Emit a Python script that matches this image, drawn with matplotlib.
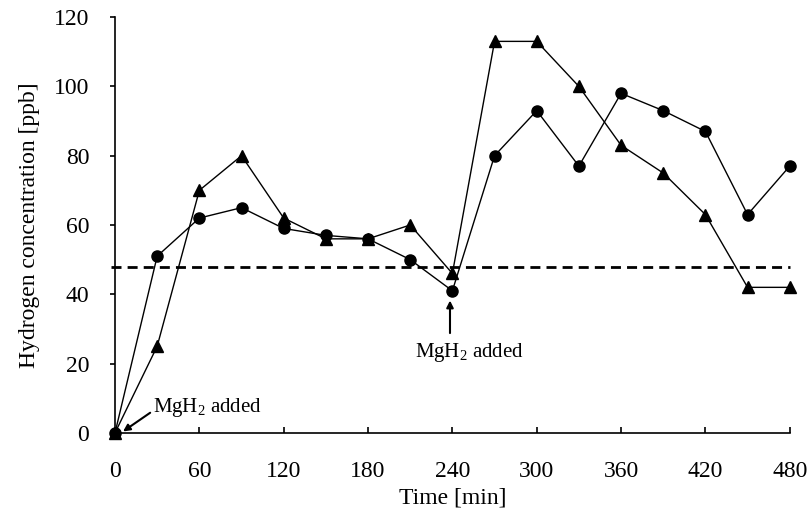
import matplotlib.pyplot as plt
import numpy as np

plt.rc('font', family='Liberation Serif')
plt.rc('mathtext', fontset='custom', rm='Liberation Serif', it='Liberation Serif:italic')
plt.rc('xtick', labelsize=17)
plt.rc('ytick', labelsize=17)
plt.rc('axes', labelsize=17)

time   = [0, 30, 60, 90, 120, 150, 180, 210, 240, 270, 300, 330, 360, 390, 420, 450, 480]
circ   = [0, 51, 62, 65, 59, 57, 56, 50, 41, 80, 93, 77, 98, 93, 87, 63, 77]
tri    = [0, 25, 70, 80, 62, 56, 56, 60, 46, 113, 113, 100, 83, 75, 63, 42, 42]
level  = 48
xticks = [0, 60, 120, 180, 240, 300, 360, 420, 480]
yticks = [0, 20, 40, 60, 80, 100, 120]

fig = plt.figure(figsize=(8.1, 5.19), dpi=100)
ax = fig.add_axes([0.142, 0.166, 0.833, 0.801])

ax.plot(time, circ, '-o', color='k', lw=1, ms=8, clip_on=False, zorder=3)
ax.plot(time, tri, '-^', color='k', lw=1, ms=8.5, clip_on=False, zorder=3)
ax.plot([-3, 480], [level, level], color='k', lw=2, dashes=(3.6, 2.2), clip_on=False)

# MgH2 addition markers
arrow = dict(arrowstyle='-|>', color='k', lw=1.5, mutation_scale=10, shrinkA=0, shrinkB=0)
ax.annotate('', xy=(5.7, 0.4), xytext=(25, 5.8), arrowprops=arrow)
ax.text(27, 6, 'MgH$_2$ added', fontsize=15, ha='left', va='baseline')
ax.annotate('', xy=(238.3, 38.2), xytext=(238.3, 28.8), arrowprops=arrow)
ax.text(252, 21.9, 'MgH$_2$ added', fontsize=15, ha='center', va='baseline')

ax.set_xlim(0, 480)
ax.set_ylim(0, 120)
ax.set_xticks(xticks)
ax.set_yticks(yticks)
ax.tick_params(axis='x', direction='in', length=4.3, width=1.2, pad=20)
ax.tick_params(axis='y', direction='out', length=3.6, width=1.2, pad=15)
ax.spines['top'].set_visible(False)
ax.spines['right'].set_visible(False)
ax.spines['left'].set_linewidth(1.2)
ax.spines['bottom'].set_linewidth(1.2)

ax.set_xlabel('Time [min]', labelpad=4)
ax.set_ylabel('Hydrogen concentration [ppb]', labelpad=10)

plt.savefig('out.png', dpi=100)
plt.close()
